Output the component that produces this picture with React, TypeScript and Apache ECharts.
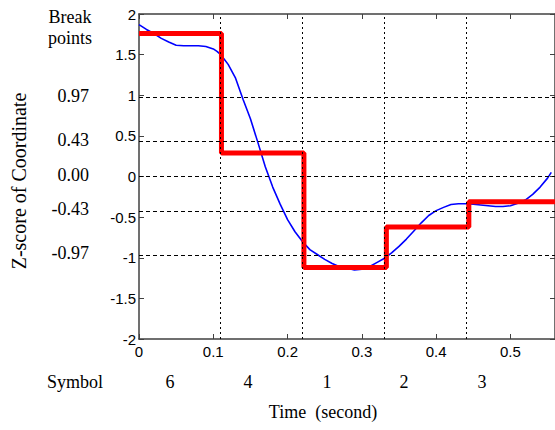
import React, { useEffect, useRef } from "react";
import * as echarts from "echarts";

// Blue curve: z-normalised coordinate over time (seconds)
const timeS = [
  0.0, 0.01, 0.02, 0.03, 0.04, 0.05, 0.06, 0.07, 0.08, 0.09, 0.1, 0.105, 0.11, 0.115, 0.12,
  0.13, 0.14, 0.15, 0.16, 0.17, 0.18, 0.19, 0.2, 0.21, 0.22, 0.23, 0.24, 0.25, 0.26, 0.27,
  0.28, 0.29, 0.3, 0.31, 0.32, 0.33, 0.34, 0.35, 0.36, 0.37, 0.38, 0.39, 0.4, 0.41, 0.42,
  0.43, 0.44, 0.45, 0.46, 0.47, 0.48, 0.49, 0.5, 0.51, 0.52, 0.53, 0.54, 0.55, 0.555,
];
const zScore = [
  1.87, 1.81, 1.76, 1.7, 1.655, 1.615, 1.61, 1.61, 1.61, 1.6, 1.57, 1.54, 1.5, 1.44, 1.38,
  1.21, 0.95, 0.71, 0.42, 0.12, -0.13, -0.34, -0.53, -0.68, -0.8, -0.9, -0.96, -1.02, -1.07, -1.11,
  -1.13, -1.15, -1.14, -1.11, -1.06, -1.01, -0.94, -0.86, -0.77, -0.67, -0.57, -0.48, -0.42, -0.38, -0.345,
  -0.335, -0.335, -0.34, -0.35, -0.36, -0.37, -0.37, -0.36, -0.33, -0.29, -0.22, -0.13, -0.02, 0.05,
];

// Red PAA segments
const segStart = [0, 0.111, 0.222, 0.333, 0.444];
const segMean = [1.76, 0.29, -1.12, -0.62, -0.31];
const xMax = 0.56;

// Break points and symbols
const breakpoints = [0.97, 0.43, 0, -0.43, -0.97];
const breakLabels = ["0.97", "0.43", "0.00", "-0.43", "-0.97"];
const symbols = ["6", "4", "1", "2", "3"];
const symbolX = [170, 248, 327, 404, 482];

const SERIF = "'Liberation Serif', 'DejaVu Serif', serif";
const SANS = "'Liberation Sans', Arial, sans-serif";
const AX = "#404040";

export default function App() {
  const ref = useRef<HTMLDivElement>(null);
  useEffect(() => {
    document.body.style.margin = "0";
    const chart = echarts.init(ref.current!, null, { renderer: "svg" });
    const redData: number[][] = segStart.map((t, i) => [t, segMean[i]]);
    redData.push([xMax, segMean[segMean.length - 1]]);
    const blueData = timeS.map((t, i) => [t, zScore[i]]);

    const axisCommon = {
      type: "value" as const,
      axisLine: { show: true, onZero: false, lineStyle: { color: AX, width: 1.5 } },
      axisTick: { show: true, inside: true, length: 5, lineStyle: { color: AX, width: 1 } },
      splitLine: { show: false },
    };

    chart.setOption({
      animation: false,
      grid: { left: 139, top: 14, width: 416, height: 325 },
      xAxis: [
        {
          ...axisCommon,
          position: "bottom",
          min: 0,
          max: xMax,
          interval: 0.1,
          axisLabel: {
            show: true,
            showMaxLabel: false,
            margin: 5,
            color: "#000",
            fontFamily: SANS,
            fontSize: 15,
          },
        },
        {
          ...axisCommon,
          position: "top",
          min: 0,
          max: xMax,
          interval: 0.1,
          axisLabel: { show: false },
        },
      ],
      yAxis: [
        {
          ...axisCommon,
          position: "left",
          min: -2,
          max: 2,
          interval: 0.5,
          axisLabel: {
            show: true,
            margin: 3,
            color: "#000",
            fontFamily: SANS,
            fontSize: 15,
          },
        },
        {
          ...axisCommon,
          position: "right",
          min: -2,
          max: 2,
          interval: 0.5,
          axisLabel: { show: false },
        },
      ],
      series: [
        {
          type: "line",
          data: [],
          z: 1,
          silent: true,
          markLine: {
            silent: true,
            symbol: "none",
            animation: false,
            label: { show: false },
            lineStyle: { color: "#000", width: 1, type: [4, 3] },
            data: [
              ...breakpoints.map((v) => ({ yAxis: v })),
              ...segStart.slice(1).map((t) => ({
                xAxis: t,
                lineStyle: { color: "#000", width: 1, type: [2, 3] },
              })),
            ],
          },
        },
        {
          type: "line",
          data: blueData,
          z: 2,
          showSymbol: false,
          symbol: "none",
          lineStyle: { color: "#0000ff", width: 1.6 },
        },
        {
          type: "line",
          data: redData,
          step: "end",
          z: 3,
          showSymbol: false,
          symbol: "none",
          lineStyle: { color: "#ff0000", width: 5 },
        },
      ],
    });

    const yPix = (v: number) => chart.convertToPixel({ yAxisIndex: 0 }, v) as number;
    const graphics: any[] = [
      {
        type: "text",
        x: 70,
        y: 27,
        style: {
          text: "Break\npoints",
          font: `18px ${SERIF}`,
          fill: "#000",
          align: "center",
          verticalAlign: "middle",
          lineHeight: 21,
        },
      },
      ...breakpoints.map((v, i) => ({
        type: "text",
        x: 89,
        y: yPix(v) - 2,
        style: {
          text: breakLabels[i],
          font: `18px ${SERIF}`,
          fill: "#000",
          align: "right",
          verticalAlign: "middle",
        },
      })),
      {
        type: "text",
        x: 19,
        y: 181,
        rotation: Math.PI / 2,
        style: {
          text: "Z-score of Coordinate",
          font: `20px ${SERIF}`,
          fill: "#000",
          align: "center",
          verticalAlign: "middle",
        },
      },
      {
        type: "text",
        x: 75,
        y: 382,
        style: {
          text: "Symbol",
          font: `18px ${SERIF}`,
          fill: "#000",
          align: "center",
          verticalAlign: "middle",
        },
      },
      ...symbols.map((s, i) => ({
        type: "text",
        x: symbolX[i],
        y: 382,
        style: {
          text: s,
          font: `18px ${SERIF}`,
          fill: "#000",
          align: "center",
          verticalAlign: "middle",
        },
      })),
      {
        type: "text",
        x: 323,
        y: 412,
        style: {
          text: "Time  (second)",
          font: `18px ${SERIF}`,
          fill: "#000",
          align: "center",
          verticalAlign: "middle",
        },
      },
    ];
    chart.setOption({ graphic: graphics });

    return () => chart.dispose();
  }, []);
  return (
    <div
      ref={ref}
      style={{ position: "fixed", left: 0, top: 0, width: 555, height: 430, background: "#fff" }}
    />
  );
}
